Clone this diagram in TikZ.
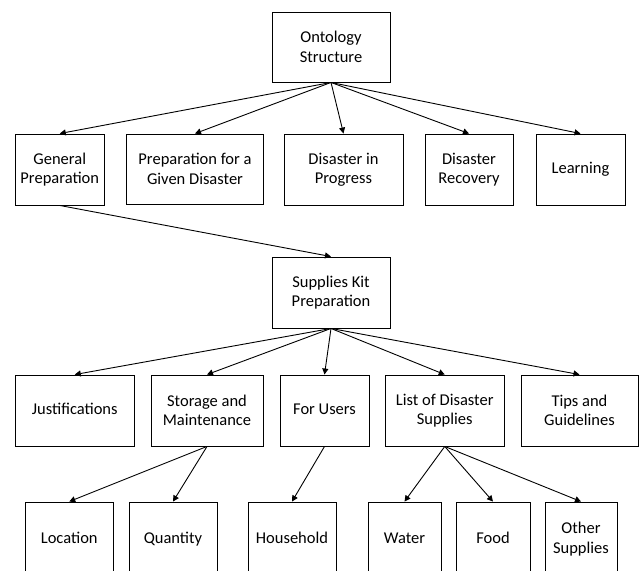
\documentclass[tikz,border=0pt]{standalone}
\usepackage{fontspec}
\setmainfont{Carlito}
\usetikzlibrary{arrows.meta}
\begin{document}
\begin{tikzpicture}[x=1pt,y=-1pt,
  box/.style={draw=black, line width=0.9pt, fill=white, align=center,
    inner sep=2pt, font=\fontsize{16.5}{19.5}\selectfont},
  oneline/.style={execute at begin node={\vphantom{Qy}}},
  link/.style={draw=black, line width=0.9pt, -{Triangle[length=6pt,width=6pt]}}]
\clip (0,0) rectangle (639,570);

% root
\node[box, minimum width=118pt, minimum height=70pt] (onto) at (331,47) {Ontology\\Structure};

% first level
\node[box, minimum width=88.5pt, minimum height=71pt] (gp)  at (59.75,169.5) {General\\Preparation};
\node[box, minimum width=137pt,  minimum height=70pt] (pgd) at (195,169)     {Preparation for a\\Given Disaster};
\node[box, minimum width=119pt,  minimum height=71pt] (dip) at (343.5,169.5) {Disaster in\\Progress};
\node[box, minimum width=88pt,   minimum height=71pt] (dr)  at (469,169.5)   {Disaster\\Recovery};
\node[box, oneline, minimum width=89pt, minimum height=71pt] (lrn) at (580.5,169.5) {Learning};

% supplies kit
\node[box, minimum width=118pt, minimum height=71pt] (kit) at (331,292.5) {Supplies Kit\\Preparation};

% kit sections
\node[box, oneline, minimum width=118.5pt, minimum height=71pt] (jus) at (74.75,410.5) {Justifications};
\node[box, minimum width=112pt,   minimum height=71pt] (stm) at (207,410.5)    {Storage and\\Maintenance};
\node[box, oneline, minimum width=89pt, minimum height=71pt] (fu) at (324.5,410.5) {For Users};
\node[box, minimum width=118.5pt, minimum height=71pt] (lds) at (444.75,410.5) {List of Disaster\\Supplies};
\node[box, minimum width=117pt,   minimum height=71pt] (tg)  at (579.5,410.5)  {Tips and\\Guidelines};

% leaves
\node[box, oneline, minimum width=88.5pt, minimum height=74pt] (loc) at (69.25,539) {Location};
\node[box, oneline, minimum width=88pt, minimum height=74pt] (qty) at (173,539)   {Quantity};
\node[box, oneline, minimum width=88pt, minimum height=74pt] (hh)  at (292,539)   {Household};
\node[box, oneline, minimum width=73pt, minimum height=74pt] (wat) at (404.5,539) {Water};
\node[box, oneline, minimum width=74pt, minimum height=74pt] (food) at (493,539)  {Food};
\node[box, minimum width=72pt, minimum height=74pt] (oth) at (581,539)   {Other\\Supplies};

% connectors
\foreach \c in {gp,pgd,dip,dr,lrn} \draw[link] (onto.south) -- (\c.north);
\draw[link] (gp.south) -- (kit.north);
\foreach \c in {jus,stm,fu,lds,tg} \draw[link] (kit.south) -- (\c.north);
\draw[link] (stm.south) -- (loc.north);
\draw[link] (stm.south) -- (qty.north);
\draw[link] (fu.south) -- (hh.north);
\foreach \c in {wat,food,oth} \draw[link] (lds.south) -- (\c.north);
\end{tikzpicture}
\end{document}
